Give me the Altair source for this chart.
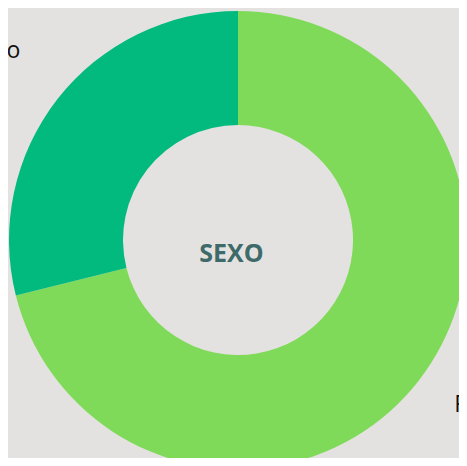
import altair as alt
import pandas as pd

categories = ["Femenino", "Masculino"]
values = [71.1, 28.9]
colors = ["#80DA5A", "#02BA7E"]
center_title = "SEXO"

total = sum(values)
starts, ends, mids = [], [], []
acc = 0.0
for v in values:
    starts.append(acc)
    ends.append(acc + v)
    mids.append(acc + v / 2)
    acc += v

df = pd.DataFrame({"cat": categories, "value": values, "start": starts, "end": ends, "mid": mids})

CX, CY = 230, 232
theta_scale = alt.Scale(domain=[0, total], range=[0, 6.283185307179586])

base = alt.Chart(df)

arcs = base.mark_arc(innerRadius=115, outerRadius=229, stroke=None).encode(
    theta=alt.Theta("start:Q", scale=theta_scale),
    theta2="end:Q",
    color=alt.Color("cat:N", scale=alt.Scale(domain=categories, range=colors), legend=None),
    x=alt.value(CX),
    y=alt.value(CY),
)

label_left = base.transform_filter(alt.datum.cat == "Masculino").mark_text(
    radius=290, dx=11, dy=-11, align="right", baseline="middle", fontSize=23, font="Open Sans", color="#111111"
).encode(
    theta=alt.Theta("mid:Q", scale=theta_scale),
    text="cat:N",
    x=alt.value(CX),
    y=alt.value(CY),
)

label_right = base.transform_filter(alt.datum.cat == "Femenino").mark_text(
    radius=282, dx=-6, dy=-9, align="left", baseline="middle", fontSize=23, font="Open Sans", color="#111111"
).encode(
    theta=alt.Theta("mid:Q", scale=theta_scale),
    text="cat:N",
    x=alt.value(CX),
    y=alt.value(CY),
)

center = alt.Chart(pd.DataFrame({"t": [center_title]})).mark_text(
    fontSize=25, font="Open Sans", fontWeight="bold", color="#3E6B6A", align="center", baseline="middle"
).encode(
    text="t:N",
    x=alt.value(223.5),
    y=alt.value(245.5),
)

chart = alt.layer(arcs, label_left, label_right, center).properties(
    width=451, height=450, padding=0, autosize="none", background="#E4E2E1"
).configure_view(stroke=None)

chart.save("out.html", embed_options={"renderer": "svg", "actions": False})
